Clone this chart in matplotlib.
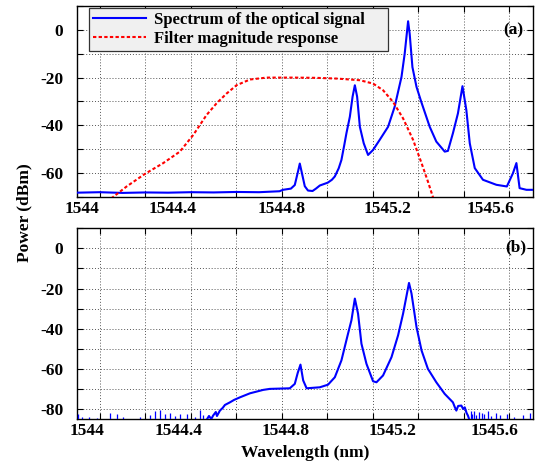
import matplotlib
matplotlib.use('Agg')
import matplotlib.pyplot as plt
import matplotlib.transforms as mtransforms

plt.rcParams['font.family'] = ['Liberation Serif', 'DejaVu Serif']
plt.rcParams['font.weight'] = 'bold'
plt.rcParams['axes.unicode_minus'] = False

# (a) spectrum of the optical signal (wavelength nm, power dBm)
wl_a = [1543.90, 1544.00, 1544.10, 1544.20, 1544.30, 1544.40, 1544.50, 1544.60, 1544.70,
        1544.79, 1544.805, 1544.84, 1544.857, 1544.872, 1544.879, 1544.886, 1544.901,
        1544.915, 1544.935, 1544.950, 1544.967, 1545.002, 1545.020, 1545.033, 1545.050,
        1545.062, 1545.075, 1545.084, 1545.099, 1545.111, 1545.121, 1545.131, 1545.143,
        1545.160, 1545.179, 1545.201, 1545.230, 1545.267, 1545.296, 1545.326, 1545.340,
        1545.355, 1545.362, 1545.374, 1545.392, 1545.413, 1545.450, 1545.479, 1545.516,
        1545.530, 1545.552, 1545.574, 1545.594, 1545.611, 1545.626, 1545.648, 1545.684,
        1545.743, 1545.789, 1545.816, 1545.831, 1545.845, 1545.875, 1545.904]
db_a = [-68.2, -68.0, -68.3, -68.1, -68.2, -68.0, -68.1, -67.9, -68.0,
        -67.6, -67.0, -66.5, -65.0, -59.0, -56.0, -59.0, -65.5,
        -67.3, -67.5, -66.5, -65.2, -64.0, -62.8, -61.4, -58.0,
        -54.5, -48.0, -43.3, -36.4, -28.0, -23.2, -28.0, -40.6,
        -47.5, -52.4, -50.3, -46.1, -40.6, -32.2, -19.7, -10.0,
        3.6, -1.7, -15.6, -23.9, -30.2, -40.6, -46.8, -51.0,
        -50.7, -43.3, -35.0, -23.6, -33.6, -47.5, -57.9, -62.8,
        -64.9, -65.6, -60.0, -55.8, -66.3, -67.0, -67.0]

# (a) filter magnitude response
wl_f = [1544.03, 1544.052, 1544.118, 1544.199, 1544.279, 1544.352, 1544.411, 1544.469,
        1544.513, 1544.557, 1544.601, 1544.660, 1544.733, 1544.85, 1544.95, 1545.040,
        1545.143, 1545.201, 1545.245, 1545.289, 1545.333, 1545.377, 1545.414, 1545.442,
        1545.464, 1545.47]
db_f = [-72.0, -70.5, -65.6, -60.3, -55.8, -51.0, -44.0, -35.7,
        -30.8, -26.7, -23.2, -20.8, -20.0, -20.0, -20.1, -20.4,
        -21.1, -22.5, -25.3, -30.2, -37.1, -46.1, -55.8, -63.5,
        -70.0, -72.0]

# (b) spectrum after filtering
wl_b = [1544.469, 1544.480, 1544.490, 1544.498, 1544.510, 1544.515, 1544.528, 1544.540,
        1544.550, 1544.572, 1544.590, 1544.616, 1544.660, 1544.718, 1544.747, 1544.835,
        1544.857, 1544.870, 1544.882, 1544.894, 1544.909, 1544.967, 1545.003, 1545.033,
        1545.062, 1545.091, 1545.106, 1545.121, 1545.135, 1545.150, 1545.172, 1545.201,
        1545.216, 1545.245, 1545.282, 1545.311, 1545.333, 1545.359, 1545.370, 1545.392,
        1545.414, 1545.442, 1545.479, 1545.516, 1545.552, 1545.560, 1545.567, 1545.575,
        1545.589, 1545.597, 1545.604, 1545.612, 1545.618, 1545.626]
db_b = [-85.5, -83.5, -85.0, -83.3, -81.5, -83.5, -80.8, -79.5,
        -78.0, -76.7, -75.5, -74.2, -72.2, -70.5, -70.0, -69.7,
        -67.5, -62.0, -57.9, -65.8, -69.7, -69.2, -67.9, -64.2,
        -55.8, -42.5, -35.8, -25.0, -32.5, -47.5, -57.5, -66.2,
        -66.7, -63.3, -54.2, -43.3, -32.5, -17.2, -22.5, -39.2,
        -50.8, -60.0, -66.7, -72.5, -76.7, -79.0, -80.8, -78.5,
        -78.3, -80.0, -79.2, -82.0, -83.3, -86.0]

# (b) noise floor spikes
noise_wl = [1543.904, 1543.922, 1543.953, 1543.988, 1544.045, 1544.076, 1544.102, 1544.177,
            1544.221, 1544.242, 1544.264, 1544.286, 1544.308, 1544.330, 1544.352, 1544.383,
            1544.418, 1544.440, 1544.455,
            1545.630, 1545.638, 1545.645, 1545.655, 1545.668, 1545.680, 1545.690, 1545.705,
            1545.720, 1545.740, 1545.760, 1545.790, 1545.820, 1545.860, 1545.890]
noise_db = [-82.5, -84.0, -84.0, -84.5, -82.0, -82.5, -84.0, -84.0,
            -83.0, -81.0, -80.5, -82.5, -82.0, -83.5, -82.5, -82.5,
            -84.0, -80.5, -83.0,
            -81.0, -82.5, -81.0, -83.0, -81.5, -82.0, -82.5, -81.0,
            -83.5, -82.0, -83.0, -82.5, -84.0, -83.0, -82.0]

grid_ticks = [1544.0, 1544.2, 1544.4, 1544.6, 1544.8, 1545.0, 1545.2, 1545.4, 1545.6, 1545.8]
xtick_labels = ['1544', '1544.4', '1544.8', '1545.2', '1545.6']
# where the labels sit in the original figure (they are shifted from their ticks)
label_pos_a = [1543.921, 1544.321, 1544.798, 1545.263, 1545.719]
label_pos_b = [1543.944, 1544.345, 1544.818, 1545.285, 1545.734]

fig = plt.figure(figsize=(5.39, 4.70), dpi=100)
ax1 = fig.add_axes([0.1429, 0.5809, 0.846, 0.4064])
ax2 = fig.add_axes([0.1429, 0.1085, 0.846, 0.4057])

blue = '#0000ff'
ax1.plot(wl_a, db_a, color=blue, lw=1.5, label='Spectrum of the optical signal', zorder=3)
ax1.plot(wl_f, db_f, color='red', lw=1.5, ls=(0, (1.6, 1.1)), label='Filter magnitude response', zorder=3)

ax2.plot(wl_b, db_b, color=blue, lw=1.5, zorder=3)
ax2.vlines(noise_wl, -90, noise_db, color=blue, lw=0.9, zorder=3)

for ax, ylo, yticks, minor, lpos in [(ax1, -70, [-60, -40, -20, 0], [-70, -50, -30, -10, 10], label_pos_a),
                                     (ax2, -85, [-80, -60, -40, -20, 0], [-70, -50, -30, -10, 10], label_pos_b)]:
    ax.set_xlim(1543.9, 1545.904)
    ax.set_ylim(ylo, 10)
    ax.set_xticks(grid_ticks)
    ax.set_xticklabels([])
    ax.set_yticks(yticks)
    ax.set_yticks(minor, minor=True)
    ax.tick_params(axis='both', which='both', direction='in', top=True, right=True, length=4, width=0.8)
    ax.tick_params(axis='y', labelsize=12.5, pad=10)
    for lab in ax.get_yticklabels():
        lab.set_fontweight('bold')
    ax.grid(True, which='both', ls=(0, (1, 2)), color='#555555', lw=0.7)
    for s in ax.spines.values():
        s.set_linewidth(1.0)
    trans = mtransforms.blended_transform_factory(ax.transData, ax.transAxes)
    for x, t in zip(lpos, xtick_labels):
        ax.text(x, -0.022, t, transform=trans, ha='center', va='top', fontsize=12.5, fontweight='bold')

leg = ax1.legend(loc='upper left', bbox_to_anchor=(0.026, 0.99, 0.656, 0.0), mode='expand',
                 fontsize=12, handlelength=3.2, fancybox=False, framealpha=1, borderpad=0.25,
                 labelspacing=0.15, handletextpad=0.45, borderaxespad=0)
leg.get_frame().set_facecolor('#f0f0f0')
leg.get_frame().set_edgecolor('#333333')
leg.get_frame().set_linewidth(0.9)
for t in leg.get_texts():
    t.set_fontweight('bold')

ax1.text(0.956, 0.874, '(a)', transform=ax1.transAxes, ha='center', va='center', fontsize=12.5, fontweight='bold')
ax2.text(0.963, 0.902, '(b)', transform=ax2.transAxes, ha='center', va='center', fontsize=12.5, fontweight='bold')

fig.text(305 / 539, 1 - 453 / 470, 'Wavelength (nm)', ha='center', va='center', fontsize=12.5, fontweight='bold')
fig.text(24 / 539, 1 - 213 / 470, 'Power (dBm)', ha='center', va='center', rotation=90, fontsize=12.5, fontweight='bold')

fig.savefig('out.png', dpi=100)
